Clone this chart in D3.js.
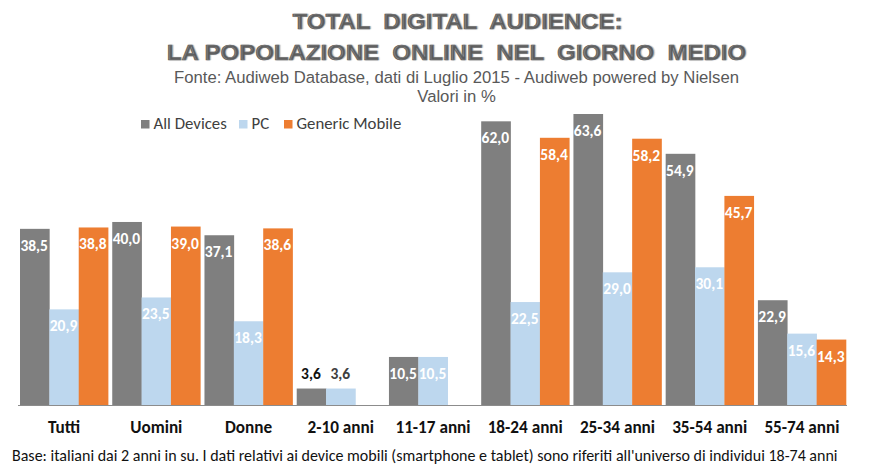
<!DOCTYPE html>
<html><head><meta charset="utf-8">
<script src="https://cdn.jsdelivr.net/npm/d3@7"></script>
<style>html,body{margin:0;padding:0;background:#fff}svg{display:block}</style>
</head><body><div id="c"></div>
<script>
const categories=["Tutti","Uomini","Donne","2-10 anni","11-17 anni","18-24 anni","25-34 anni","35-54 anni","55-74 anni"];
const seriesNames=["All Devices","PC","Generic Mobile"];
const allDevices=[38.5,40.0,37.1,3.6,10.5,62.0,63.6,54.9,22.9];
const pc=[20.9,23.5,18.3,3.6,10.5,22.5,29.0,30.1,15.6];
const mobile=[38.8,39.0,38.6,null,null,58.4,58.2,45.7,14.3];
const colors=["#7f7f7f","#bdd7ee","#ed7d31"];
const W=870,H=476;
const svg=d3.select("#c").append("svg").attr("width",W).attr("height",H);
const x=d3.scaleBand().domain(categories).range([20,846]).paddingInner(0.045).paddingOuter(0);
const xs=d3.scaleBand().domain(seriesNames).range([0,x.bandwidth()]);
const y=d3.scaleLinear().domain([0,63.6]).range([405,114]);
const fmt=v=>v.toFixed(1).replace(".",",");
const body="Carlito,Calibri,Lato,'Noto Sans',sans-serif";
const head="'Liberation Sans',Arial,sans-serif";
[allDevices,pc,mobile].forEach((vals,s)=>{
  const name=seriesNames[s];
  const g=svg.append("g");
  const data=categories.map((c,i)=>({c,v:vals[i]})).filter(d=>d.v!=null);
  g.selectAll("rect").data(data).join("rect")
    .attr("x",d=>x(d.c)+xs(name)).attr("width",xs.bandwidth()+0.3)
    .attr("y",d=>y(d.v)).attr("height",d=>y(0)-y(d.v)).attr("fill",colors[s]);
  g.selectAll("text").data(data).join("text")
    .attr("x",d=>x(d.c)+xs(name)+xs.bandwidth()/2-0.5)
    .attr("y",d=>d.v<5?y(d.v)-10:y(d.v)+22)
    .attr("text-anchor","middle").attr("font-family",body).attr("font-weight",700).attr("font-size",15.5)
    .attr("fill",d=>d.v<5?(s==0?"#111":"#404040"):"#fff").text(d=>fmt(d.v));
});
const ax=svg.append("g").attr("transform","translate(0,405)").call(d3.axisBottom(x).tickSize(0).tickPadding(16));
ax.select(".domain").attr("stroke","#8c8c8c").attr("stroke-width",1.2).attr("d","M18,0.5H847");
ax.selectAll("text").attr("font-family",body).attr("font-weight",700).attr("font-size",17.2).attr("fill","#111");
const title=[["TOTAL  DIGITAL  AUDIENCE:",28.5,457.5],["LA POPOLAZIONE  ONLINE  NEL  GIORNO  MEDIO",59.5,456.5]];
title.forEach(([t,yy,xx])=>svg.append("text").attr("text-anchor","middle")
  .attr("transform",`translate(${xx},${yy}) scale(1.09,1)`)
  .attr("font-family",head).attr("font-weight",700).attr("font-size",22).attr("fill","#595959")
  .attr("stroke","#595959").attr("stroke-width",0.5)
  .attr("style","text-shadow:1px 1px 1px #b5b5b5;white-space:pre").text(t));
svg.append("text").attr("x",456.5).attr("y",83).attr("text-anchor","middle").attr("font-family",head).attr("font-size",16.7).attr("fill","#595959").text("Fonte: Audiweb Database, dati di Luglio 2015 - Audiweb powered by Nielsen");
svg.append("text").attr("x",456.5).attr("y",102).attr("text-anchor","middle").attr("font-family",head).attr("font-size",16.7).attr("fill","#595959").text("Valori in %");
const lx=[141,239,284];
seriesNames.forEach((n,i)=>{
  svg.append("rect").attr("x",lx[i]).attr("y",120).attr("width",8.5).attr("height",8.5).attr("fill",colors[i]);
  svg.append("text").attr("x",lx[i]+12.5).attr("y",128.5).attr("font-family",body).attr("font-size",16.8).attr("fill","#404040").text(n);
});
svg.append("text").attr("x",12).attr("y",461).attr("font-family",body).attr("font-size",16).attr("fill","#111").text("Base: italiani dai 2 anni in su. I dati relativi ai device mobili (smartphone e tablet) sono riferiti all'universo di individui 18-74 anni");
</script></body></html>
